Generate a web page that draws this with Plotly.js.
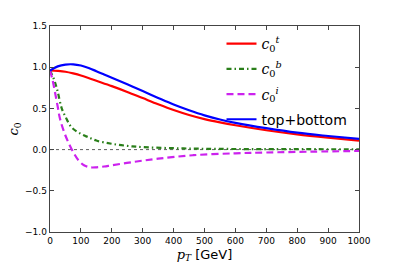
<!DOCTYPE html>
<html>
<head>
<meta charset="utf-8">
<script src="https://cdn.plot.ly/plotly-3.0.1.min.js"></script>
<style>html,body{margin:0;padding:0;background:#fff;}#chart{width:399px;height:266px;}</style>
</head>
<body>
<div id="chart"></div>
<script>
// c0^t (top)
const xTop = [0, 25, 50, 75, 100, 150, 200, 250, 300, 350, 400, 450, 500, 550, 600, 700, 800, 900, 1000];
const yTop = [0.96, 0.955, 0.945, 0.925, 0.90, 0.835, 0.77, 0.70, 0.625, 0.55, 0.48, 0.42, 0.37, 0.33, 0.295, 0.235, 0.185, 0.145, 0.11];
// c0^b (bottom)
const xBot = [0, 10, 16, 25, 38, 50, 70, 100, 124, 150, 200, 250, 300, 400, 500, 700, 1000];
const yBot = [0.96, 0.88, 0.82, 0.70, 0.50, 0.40, 0.27, 0.19, 0.15, 0.11, 0.07, 0.045, 0.03, 0.017, 0.01, 0.006, 0.004];
// c0^i (interference)
const xInt = [0, 8, 16, 25, 32, 45, 59, 75, 92, 110, 130, 150, 175, 200, 270, 350, 464, 600, 700, 850, 1000];
const yInt = [0.96, 0.85, 0.70, 0.52, 0.38, 0.22, 0.09, -0.03, -0.13, -0.19, -0.215, -0.215, -0.205, -0.19, -0.15, -0.11, -0.068, -0.045, -0.035, -0.025, -0.016];
// top+bottom
const xSum = [0, 25, 50, 75, 100, 125, 150, 175, 200, 250, 300, 350, 400, 450, 500, 550, 600, 700, 800, 900, 1000];
const ySum = [0.96, 1.01, 1.032, 1.035, 1.02, 0.99, 0.952, 0.912, 0.872, 0.792, 0.71, 0.627, 0.547, 0.477, 0.415, 0.365, 0.325, 0.26, 0.205, 0.165, 0.13];

const xTicks = [0, 100, 200, 300, 400, 500, 600, 700, 800, 900, 1000];
const yTicks = [-1.0, -0.5, 0.0, 0.5, 1.0, 1.5];

const mathFont = "DejaVu Serif";
const lab = (s) => '<span style="font-family:' + mathFont + '"><i>c</i><sub>0</sub><sup><i>' + s + '</i></sup></span>';

const traces = [
  {x: xTop, y: yTop, name: lab('t'), mode: 'lines', legendgroup: 'a',
   line: {color: '#ff0000', width: 2.2, shape: 'spline'}},
  {x: xBot, y: yBot, name: lab('b'), mode: 'lines', legendgroup: 'b',
   line: {color: '#2a7f1a', width: 2.2, dash: '5px,3px,1.5px,3px', shape: 'spline'}},
  {x: xInt, y: yInt, name: lab('i'), mode: 'lines', legendgroup: 'c',
   line: {color: '#cc22ee', width: 2.2, dash: '7px,4px', shape: 'spline'}},
  {x: xSum, y: ySum, name: 'top+bottom', mode: 'lines', legendgroup: 'd',
   line: {color: '#0000ff', width: 2.2, shape: 'spline'}}
];

const axisCommon = {
  showline: true, linecolor: '#444', linewidth: 1.3, mirror: 'ticks',
  ticks: 'inside', ticklen: 4, tickwidth: 1, tickcolor: '#444',
  showgrid: false, zeroline: false,
  tickfont: {family: 'DejaVu Sans', size: 9, color: '#000'}
};

const layout = {
  width: 399, height: 266,
  margin: {l: 50, r: 40, t: 26, b: 34},
  paper_bgcolor: '#fff', plot_bgcolor: '#fff',
  font: {family: 'DejaVu Sans', color: '#000'},
  xaxis: Object.assign({}, axisCommon, {
    range: [0, 1000], tickvals: xTicks, ticktext: xTicks.map(String),
    title: {text: '<span style="font-family:' + mathFont + '"><i>p</i><sub><i>T</i></sub></span> [GeV]',
            font: {family: 'DejaVu Sans', size: 13}, standoff: 4}
  }),
  yaxis: Object.assign({}, axisCommon, {
    range: [-1.0, 1.5], tickvals: yTicks, ticktext: yTicks.map(v => v.toFixed(1).replace('-', '\u2212')),
    title: {text: '<span style="font-family:' + mathFont + '"><i>c</i><sub>0</sub></span>',
            font: {size: 13}, standoff: 3}
  }),
  showlegend: true,
  legend: {x: 0.555, y: 0.99, xanchor: 'left', yanchor: 'top', bgcolor: 'rgba(0,0,0,0)',
           font: {family: 'DejaVu Sans', size: 14}, tracegroupgap: 4, itemwidth: 30},
  shapes: [{type: 'line', xref: 'x', yref: 'y', x0: 0, x1: 1000, y0: 0, y1: 0,
            line: {color: '#333', width: 0.8, dash: 'dot'}, layer: 'below'}]
};

Plotly.newPlot('chart', traces, layout, {staticPlot: true, displayModeBar: false});
</script>
</body>
</html>
